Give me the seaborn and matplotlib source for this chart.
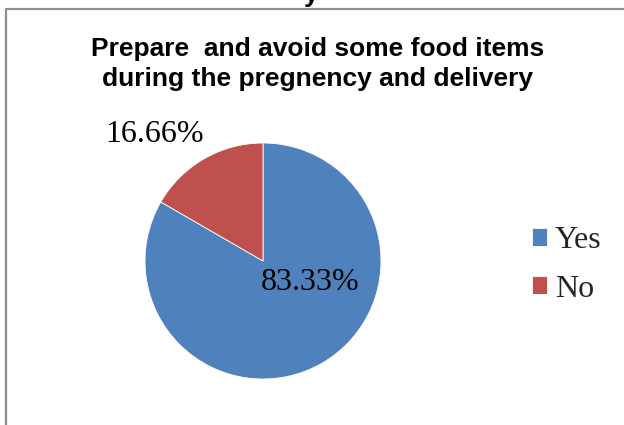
import matplotlib
matplotlib.use("Agg")
import matplotlib.pyplot as plt
import seaborn as sns
from matplotlib.lines import Line2D

categories = ["Yes", "No"]
values = [83.33, 16.66]
value_labels = ["83.33%", "16.66%"]
colors = ["#4F81BD", "#C0504D"]
title_text = "Prepare  and avoid some food items\nduring the pregnency and delivery"

sns.set_theme(style="white")
plt.rcParams["font.family"] = ["Liberation Serif", "DejaVu Sans"]

W, H = 624, 425
fig = plt.figure(figsize=(W / 100, H / 100), dpi=100)

def fx(px):
    return px / W

def fy(py):
    return 1 - py / H

# outer frame (left and top edges visible)
fig.add_artist(Line2D([fx(6), fx(6), fx(624)], [fy(430), fy(9), fy(9)],
                      transform=fig.transFigure, color="#8e8e8e", lw=1.6))
# clipped text from above
fig.text(fx(311), fy(2), "y", ha="center", va="baseline", fontsize=19,
         fontweight="bold", family=["Liberation Sans"], color="black")

cx, cy, r = 263, 261, 118
ax = fig.add_axes([fx(cx - r), fy(cy + r), 2 * r / W, 2 * r / H])
wedges, _ = ax.pie(values, colors=colors, startangle=90, counterclock=False,
                   radius=1, wedgeprops=dict(edgecolor="white", linewidth=0.6))
ax.set_xlim(-1, 1)
ax.set_ylim(-1, 1)
ax.set_aspect("equal")
ax.axis("off")

label_pos = [(0.40, -0.18), (-0.915, 1.07)]
for (x, y), t in zip(label_pos, value_labels):
    ax.text(x, y, t, ha="center", va="center", fontsize=23, color="black")

fig.text(fx(318), fy(64), title_text, ha="center", va="center", fontsize=19,
         fontweight="bold", family=["Liberation Sans"], linespacing=1.35,
         color="black")

leg = fig.legend(wedges, categories, loc="center left",
                 bbox_to_anchor=(fx(532), fy(265)), frameon=False, fontsize=23,
                 handlelength=0.47, handleheight=0.47, handletextpad=0.25,
                 labelspacing=0.6, borderpad=0, borderaxespad=0)

fig.savefig("out.png", dpi=100)
